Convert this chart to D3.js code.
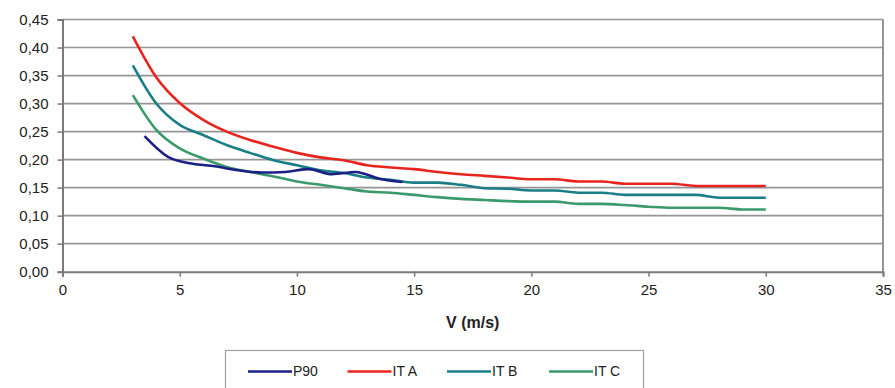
<!DOCTYPE html>
<html>
<head>
<meta charset="utf-8">
<script src="https://cdn.jsdelivr.net/npm/d3@7"></script>
<style>
  body { margin: 0; background: #fff; }
  svg { display: block; font-family: "Liberation Sans", Arial, sans-serif; }
</style>
</head>
<body>
<div id="chart"></div>
<script>
// wind speed points (m/s)
const speedsIT = [3, 4, 5, 6, 7, 8, 9, 10, 11, 12, 13, 14, 15, 16, 17, 18, 19, 20, 21, 22, 23, 24, 25, 26, 27, 28, 29, 30];
const speedsP90 = [3.5, 4.5, 5.5, 6.5, 7.5, 8.5, 9.5, 10.5, 11.5, 12.5, 13.5, 14.5];

const p90 = [0.242, 0.205, 0.193, 0.188, 0.181, 0.177, 0.178, 0.183, 0.174, 0.178, 0.166, 0.160];
const itA = [0.420, 0.347, 0.301, 0.271, 0.250, 0.235, 0.223, 0.212, 0.204, 0.199, 0.190, 0.186, 0.183, 0.178,
             0.174, 0.171, 0.168, 0.165, 0.165, 0.161, 0.161, 0.157, 0.157, 0.157, 0.153, 0.153, 0.153, 0.153];
const itB = [0.368, 0.300, 0.262, 0.244, 0.226, 0.212, 0.199, 0.190, 0.181, 0.176, 0.168, 0.164, 0.159, 0.159,
             0.155, 0.149, 0.148, 0.145, 0.145, 0.141, 0.141, 0.137, 0.137, 0.137, 0.137, 0.132, 0.132, 0.132];
const itC = [0.315, 0.253, 0.220, 0.202, 0.187, 0.178, 0.170, 0.161, 0.155, 0.149, 0.143, 0.141, 0.137, 0.133,
             0.130, 0.128, 0.126, 0.125, 0.125, 0.121, 0.121, 0.119, 0.116, 0.114, 0.114, 0.114, 0.111, 0.111];

const seriesNames = ["P90", "IT A", "IT B", "IT C"];
const seriesColors = ["#1c1f86", "#e8241f", "#1a7e86", "#3b9a6c"];

const xTicks = [0, 5, 10, 15, 20, 25, 30, 35];
const yTicks = [0, 0.05, 0.10, 0.15, 0.20, 0.25, 0.30, 0.35, 0.40, 0.45];

const width = 895, height = 388;
const margin = {top: 19.5, right: 12, bottom: 116.3, left: 62.5};
const innerW = width - margin.left - margin.right;
const innerH = height - margin.top - margin.bottom;

const series = [
  {name: seriesNames[0], color: seriesColors[0], pts: speedsP90.map((v, i) => [v, p90[i]])},
  {name: seriesNames[1], color: seriesColors[1], pts: speedsIT.map((v, i) => [v, itA[i]])},
  {name: seriesNames[2], color: seriesColors[2], pts: speedsIT.map((v, i) => [v, itB[i]])},
  {name: seriesNames[3], color: seriesColors[3], pts: speedsIT.map((v, i) => [v, itC[i]])}
];

const svg = d3.select("#chart").append("svg")
  .attr("width", width)
  .attr("height", height);

const g = svg.append("g")
  .attr("transform", `translate(${margin.left},${margin.top})`);

const x = d3.scaleLinear().domain([0, 35]).range([0, innerW]);
const y = d3.scaleLinear().domain([0, 0.45]).range([innerH, 0]);

const fmt = d => d3.format(".2f")(d).replace(".", ",");

// horizontal grid
g.append("g")
  .selectAll("line")
  .data(yTicks.filter(d => d > 0))
  .enter().append("line")
    .attr("x1", 0)
    .attr("x2", innerW)
    .attr("y1", d => y(d))
    .attr("y2", d => y(d))
    .attr("stroke", "#959595")
    .attr("stroke-width", 1.7);

// right border
g.append("line")
  .attr("x1", innerW).attr("x2", innerW)
  .attr("y1", 0).attr("y2", innerH)
  .attr("stroke", "#8a8a8a")
  .attr("stroke-width", 1.8);

// y axis
const yAxis = g.append("g")
  .call(d3.axisLeft(y).tickValues(yTicks).tickFormat(fmt).tickSize(5).tickPadding(9));
yAxis.select(".domain").attr("stroke", "#7a7a7a").attr("stroke-width", 2);
yAxis.selectAll(".tick line").attr("stroke", "#7a7a7a").attr("stroke-width", 1.5);
yAxis.selectAll("text")
  .attr("font-size", 15)
  .attr("fill", "#222")
  .attr("font-family", "Liberation Sans, Arial, sans-serif");

// x axis
const xAxis = g.append("g")
  .attr("transform", `translate(0,${innerH})`)
  .call(d3.axisBottom(x).tickValues(xTicks).tickFormat(d3.format("d")).tickSize(5).tickPadding(8));
xAxis.select(".domain").attr("stroke", "#7a7a7a").attr("stroke-width", 2);
xAxis.selectAll(".tick line").attr("stroke", "#7a7a7a").attr("stroke-width", 1.5);
xAxis.selectAll("text")
  .attr("font-size", 15)
  .attr("fill", "#222")
  .attr("font-family", "Liberation Sans, Arial, sans-serif");

// axis title
svg.append("text")
  .attr("x", margin.left + innerW / 2)
  .attr("y", 328)
  .attr("text-anchor", "middle")
  .attr("font-size", 16)
  .attr("font-weight", "bold")
  .attr("fill", "#222")
  .text("V (m/s)");

// lines
const line = d3.line()
  .x(d => x(d[0]))
  .y(d => y(d[1]))
  .curve(d3.curveMonotoneX);

// draw P90 last so it sits on top like the original
const drawOrder = [1, 2, 3, 0];
g.append("g")
  .selectAll("path")
  .data(drawOrder.map(i => series[i]))
  .enter().append("path")
    .attr("d", d => line(d.pts))
    .attr("fill", "none")
    .attr("stroke", d => d.color)
    .attr("stroke-width", 2.6)
    .attr("stroke-linejoin", "round");

// legend
const legend = svg.append("g");
legend.append("rect")
  .attr("x", 225.5)
  .attr("y", 350.5)
  .attr("width", 418)
  .attr("height", 50)
  .attr("fill", "#fff")
  .attr("stroke", "#a0a0a0")
  .attr("stroke-width", 1.2);

const legendX = [248, 347.5, 447, 549];
const legendItems = legend.selectAll("g.item")
  .data(series)
  .enter().append("g")
    .attr("class", "item")
    .attr("transform", (d, i) => `translate(${legendX[i]},371.5)`);

legendItems.append("line")
  .attr("x1", 0).attr("x2", 44)
  .attr("stroke", d => d.color)
  .attr("stroke-width", 2.6);

legendItems.append("text")
  .attr("x", 45)
  .attr("dy", "0.35em")
  .attr("font-size", 14)
  .attr("fill", "#222")
  .text(d => d.name);
</script>
</body>
</html>
